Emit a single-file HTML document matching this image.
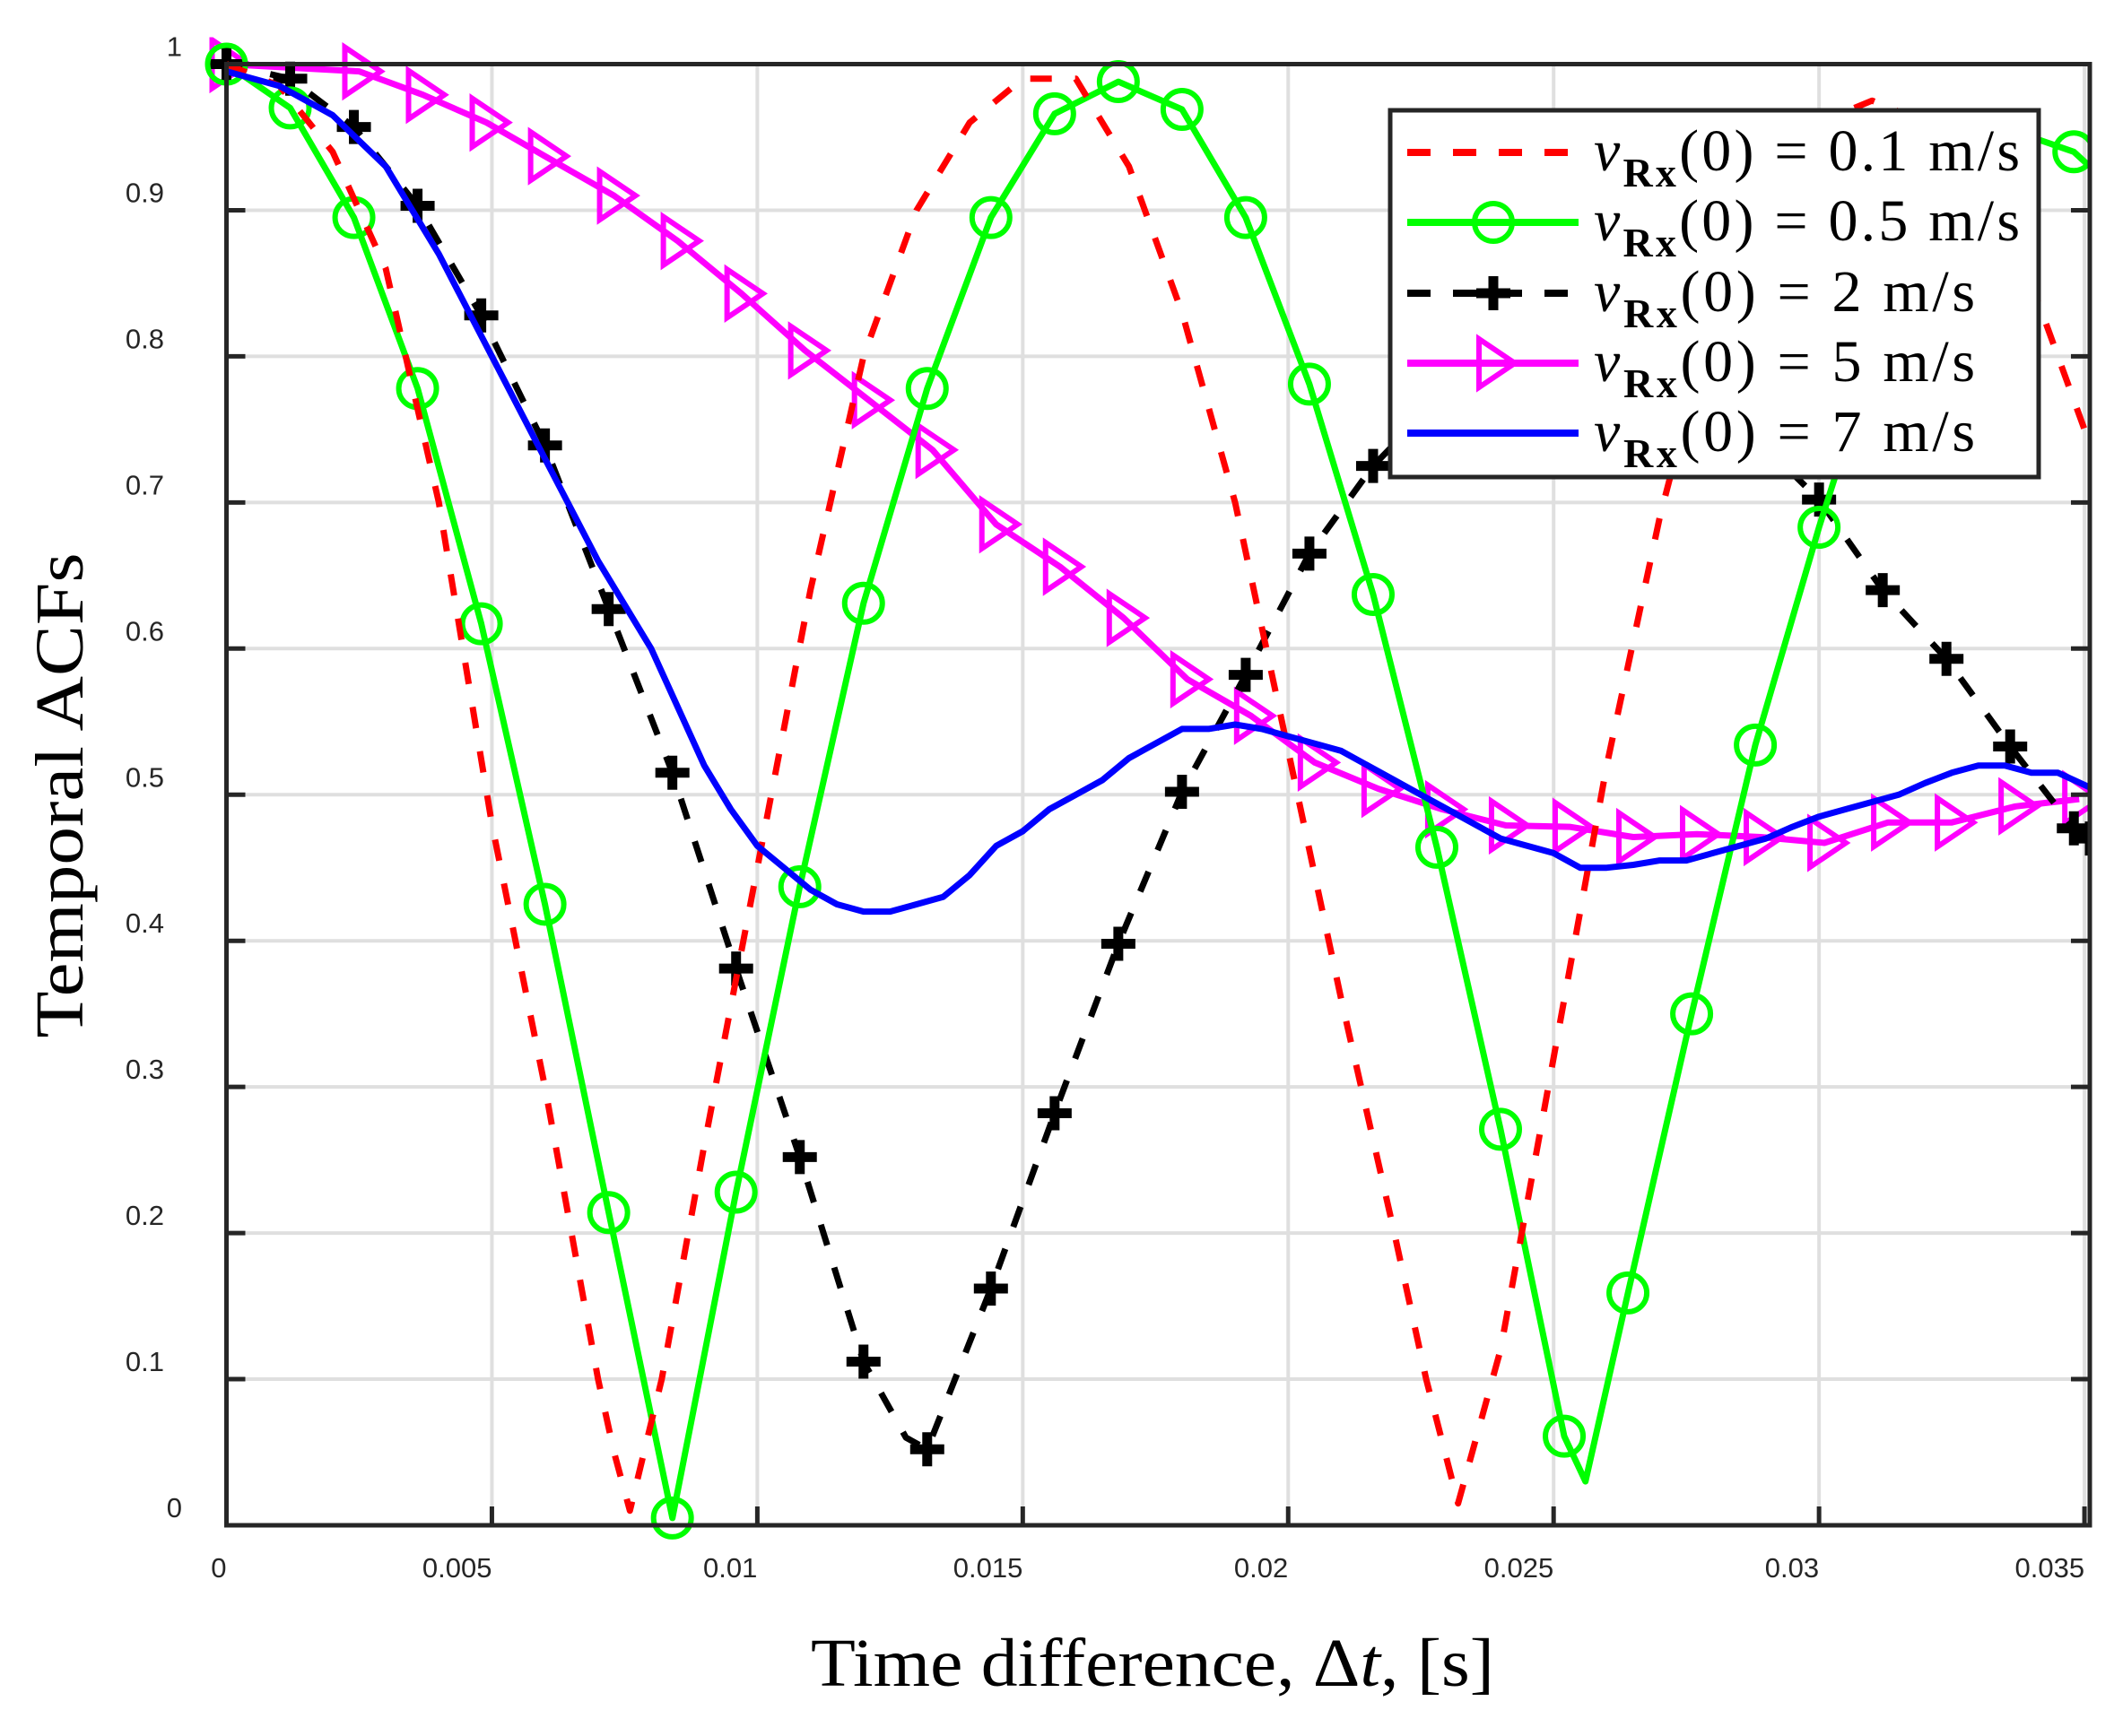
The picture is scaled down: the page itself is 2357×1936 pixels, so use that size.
<!DOCTYPE html>
<html><head><meta charset="utf-8"><style>
html,body{margin:0;padding:0;background:#fff;}
svg{display:block;}
</style></head><body>
<svg id="chart" width="2357" height="1936" viewBox="0 0 2357 1936" xmlns="http://www.w3.org/2000/svg">
<rect x="0" y="0" width="2357" height="1936" fill="#fff"/>
<g id="grid"></g>
<g id="series"></g>
<g id="axes"></g>
<g id="legend"></g>
<text x="1285" y="1880" font-family="Liberation Serif, serif" font-size="76" text-anchor="middle" textLength="762" lengthAdjust="spacingAndGlyphs" fill="#000">Time difference, Δ<tspan font-style="italic">t</tspan>, [s]</text>
<text transform="translate(92,887) rotate(-90)" font-family="Liberation Serif, serif" font-size="76" text-anchor="middle" textLength="541" lengthAdjust="spacingAndGlyphs" fill="#000">Temporal ACFs</text>
</svg>
<script>
const xTicks=[0,0.005,0.01,0.015,0.02,0.025,0.03,0.035];
const xTickLabels=["0","0.005","0.01","0.015","0.02","0.025","0.03","0.035"];
const yTicks=[0,0.1,0.2,0.3,0.4,0.5,0.6,0.7,0.8,0.9,1];
const yTickLabels=["0","0.1","0.2","0.3","0.4","0.5","0.6","0.7","0.8","0.9","1"];

const redT=[0,0.001,0.002,0.003,0.004,0.005,0.006,0.007,0.0073,0.0076,0.0082,0.009,0.01,0.011,0.012,0.013,0.014,0.015,0.016,0.017,0.018,0.019,0.020,0.021,0.022,0.0226,0.0232,0.024,0.025,0.026,0.027,0.028,0.029,0.030,0.031,0.032,0.033,0.034,0.0351];
const redV=[1.0,0.985,0.94,0.86,0.7,0.48,0.3,0.1,0.05,0.01,0.1,0.26,0.45,0.64,0.8,0.9,0.96,0.99,0.99,0.93,0.83,0.7,0.53,0.36,0.2,0.1,0.015,0.12,0.32,0.52,0.69,0.83,0.92,0.96,0.975,0.96,0.92,0.85,0.74];

const greenT=[0,0.0012,0.0024,0.0036,0.0048,0.006,0.0072,0.0084,0.0096,0.0108,0.012,0.0132,0.0144,0.0156,0.0168,0.018,0.0192,0.0204,0.0216,0.0228,0.024,0.0252,0.0256,0.0264,0.0276,0.0288,0.03,0.0312,0.0324,0.0336,0.0348,0.0351];
const greenV=[1.0,0.97,0.895,0.778,0.617,0.425,0.214,0.005,0.228,0.437,0.631,0.778,0.895,0.966,0.988,0.969,0.895,0.781,0.637,0.464,0.271,0.061,0.03,0.159,0.35,0.534,0.683,0.82,0.91,0.955,0.94,0.93];
const greenMarkT=[0,0.0012,0.0024,0.0036,0.0048,0.006,0.0072,0.0084,0.0096,0.0108,0.012,0.0132,0.0144,0.0156,0.0168,0.018,0.0192,0.0204,0.0216,0.0228,0.024,0.0252,0.0264,0.0276,0.0288,0.03,0.0312,0.0324,0.0336,0.0348];
const greenMarkV=[1.0,0.97,0.895,0.778,0.617,0.425,0.214,0.005,0.228,0.437,0.631,0.778,0.895,0.966,0.988,0.969,0.895,0.781,0.637,0.464,0.271,0.061,0.159,0.35,0.534,0.683,0.82,0.91,0.955,0.94];

const blackT=[0,0.0012,0.0024,0.0036,0.0048,0.006,0.0072,0.0084,0.0096,0.0108,0.012,0.0128,0.0132,0.0144,0.0156,0.0168,0.018,0.0192,0.0204,0.0216,0.0228,0.024,0.0252,0.0264,0.0276,0.0288,0.03,0.0312,0.0324,0.0336,0.0348,0.0351];
const blackV=[1.0,0.99,0.957,0.903,0.828,0.739,0.627,0.515,0.381,0.252,0.112,0.06,0.052,0.162,0.282,0.398,0.502,0.582,0.665,0.725,0.77,0.8,0.81,0.8,0.78,0.745,0.702,0.64,0.593,0.533,0.477,0.47];

const magT=[0,0.0025,0.0037,0.0049,0.006,0.0073,0.0085,0.0097,0.0109,0.0121,0.0133,0.0145,0.0157,0.0169,0.0181,0.0193,0.0205,0.0217,0.0229,0.0241,0.0253,0.0265,0.0277,0.0289,0.0301,0.0313,0.0325,0.0337,0.0349];
const magV=[1.0,0.995,0.979,0.96,0.937,0.91,0.879,0.843,0.804,0.77,0.736,0.685,0.656,0.621,0.579,0.554,0.522,0.504,0.49,0.479,0.478,0.471,0.473,0.471,0.467,0.481,0.481,0.492,0.497];

const blueT=[0,0.001,0.002,0.003,0.004,0.005,0.006,0.007,0.0075,0.008,0.0085,0.009,0.0095,0.010,0.0105,0.011,0.0115,0.012,0.0125,0.013,0.0135,0.014,0.0145,0.015,0.0155,0.016,0.0165,0.017,0.0175,0.018,0.0185,0.019,0.0195,0.020,0.0205,0.021,0.0215,0.022,0.0225,0.023,0.0235,0.024,0.0245,0.025,0.0255,0.026,0.0265,0.027,0.0275,0.028,0.0285,0.029,0.0295,0.030,0.0305,0.031,0.0315,0.032,0.0325,0.033,0.0335,0.034,0.0345,0.0351];
const blueV=[0.995,0.985,0.965,0.93,0.87,0.8,0.73,0.66,0.63,0.6,0.56,0.52,0.49,0.465,0.45,0.435,0.425,0.42,0.42,0.425,0.43,0.445,0.465,0.475,0.49,0.5,0.51,0.525,0.535,0.545,0.545,0.548,0.545,0.54,0.535,0.53,0.52,0.51,0.5,0.49,0.48,0.47,0.465,0.46,0.45,0.45,0.452,0.455,0.455,0.46,0.465,0.47,0.478,0.485,0.49,0.495,0.5,0.508,0.515,0.52,0.52,0.515,0.515,0.505];

const legendLabels=["0.1","0.5","2","5","7"];

const X0=252.5,X1=2330,Y0=1701,Y1=71.5,XMAX=0.0351;
const sx=t=>X0+t/XMAX*(X1-X0);
const sy=v=>Y0-v*(Y0-Y1);
const NS="http://www.w3.org/2000/svg";
function mk(tag,attrs,parent){const e=document.createElementNS(NS,tag);for(const k in attrs)e.setAttribute(k,attrs[k]);parent.appendChild(e);return e;}
const grid=document.getElementById('grid'),axes=document.getElementById('axes'),ser=document.getElementById('series'),leg=document.getElementById('legend');

xTicks.forEach((t,i)=>{
  const x=sx(t);
  if(i>0){const g=mk('line',{x1:x,x2:x,y1:Y1,y2:Y0,stroke:'#dfdfdf','stroke-width':4},grid);
  
  }
  const tk=mk('line',{x1:x,x2:x,y1:Y0,y2:Y0-21,stroke:'#262626','stroke-width':5},axes);
  
  
  const lb=mk('text',{x:x,y:1759,'font-family':'Liberation Sans, sans-serif','font-size':31,'text-anchor':'end',fill:'#262626'},axes);
  
  
  lb.textContent=xTickLabels[i];
});
yTicks.forEach((v,i)=>{
  const y=sy(v);
  if(i>0&&i<yTicks.length-1){const g=mk('line',{x1:X0,x2:X1,y1:y,y2:y,stroke:'#dfdfdf','stroke-width':4},grid);
  
  }
  const tk=mk('line',{x1:X0,x2:X0+21,y1:y,y2:y,stroke:'#262626','stroke-width':5},axes);
  
  
  const tk2=mk('line',{x1:X1,x2:X1-21,y1:y,y2:y,stroke:'#262626','stroke-width':5},axes);
  
  
  const lab=yTickLabels[i];
  const lb=mk('text',{x:lab.length==1?203:183,y:y-9,'font-family':'Liberation Sans, sans-serif','font-size':31,'text-anchor':'end',fill:'#262626'},axes);
  
  
  lb.textContent=lab;
});
const box=mk('rect',{x:X0,y:Y1,width:X1-X0,height:Y0-Y1,fill:'none',stroke:'#262626','stroke-width':5},axes);



function pathOf(T,V){return T.map((t,i)=>(i?'L':'M')+sx(t).toFixed(1)+','+sy(V[i]).toFixed(1)).join('');}
const clip=mk('clipPath',{id:'pc'},ser);mk('rect',{x:X0-30,y:Y1-30,width:X1-X0+30,height:Y0-Y1+60},clip);

const g1=mk('g',{'clip-path':'url(#pc)'},ser);
function line(T,V,color,dash,name){const p=mk('path',{d:pathOf(T,V),fill:'none',stroke:color,'stroke-width':7,'stroke-linejoin':'round'},g1);
  if(dash)p.setAttribute('stroke-dasharray',dash);
  
  }
function circle(x,y,parent){const c=mk('circle',{cx:x,cy:y,r:21,fill:'none',stroke:'#00ff00','stroke-width':6},parent);
  
  }
function plus(x,y,parent){const p=mk('path',{d:`M${x-19},${y}H${x+19}M${x},${y-19}V${y+19}`,stroke:'#000','stroke-width':11,fill:'none'},parent);
  
  }
function tri(x,y,parent){const p=mk('path',{d:`M${x-16},${y-27}L${x+24},${y}L${x-16},${y+27}Z`,stroke:'#ff00ff','stroke-width':6,fill:'none'},parent);
  
  }

line(magT,magV,'#ff00ff',null,'line-5ms');
magT.forEach((t,i)=>tri(sx(t),sy(magV[i]),g1));
line(blackT,blackV,'#000','24,26','line-2ms');
blackT.forEach((t,i)=>{if(i!=11)plus(sx(t),sy(blackV[i]),g1);});
line(greenT,greenV,'#00ff00',null,'line-0.5ms');
greenMarkT.forEach((t,i)=>circle(sx(t),sy(greenMarkV[i]),g1));
line(redT,redV,'#ff0000','24,26','line-0.1ms');
line(blueT,blueV,'#0000ff',null,'line-7ms');

// legend
const lb=mk('rect',{x:1550,y:123,width:723,height:409,fill:'#fff',stroke:'#262626','stroke-width':5},leg);


const rows=[170,248,327,405,483];
const colors=['#ff0000','#00ff00','#000','#ff00ff','#0000ff'];
const lens=[475,475,425,425,425];
rows.forEach((y,i)=>{
  const s=mk('line',{x1:1569,x2:1760,y1:y,y2:y,stroke:colors[i],'stroke-width':8},leg);
  if(i==0||i==2)s.setAttribute('stroke-dasharray','26,25');
  
  
  if(i==1)circle(1665,y,leg);
  if(i==2)plus(1665,y,leg);
  if(i==3)tri(1665,y,leg);
  const t=mk('text',{x:1777,y:y+20,'font-family':'Liberation Serif, serif','font-size':66,fill:'#000',textLength:lens[i],lengthAdjust:'spacing'},leg);
  
  
  t.innerHTML='<tspan font-style="italic">v</tspan><tspan font-weight="bold" font-size="46" dy="18">Rx</tspan><tspan dy="-18">(0) = '+legendLabels[i]+' m/s</tspan>';
});
</script>
</body></html>
